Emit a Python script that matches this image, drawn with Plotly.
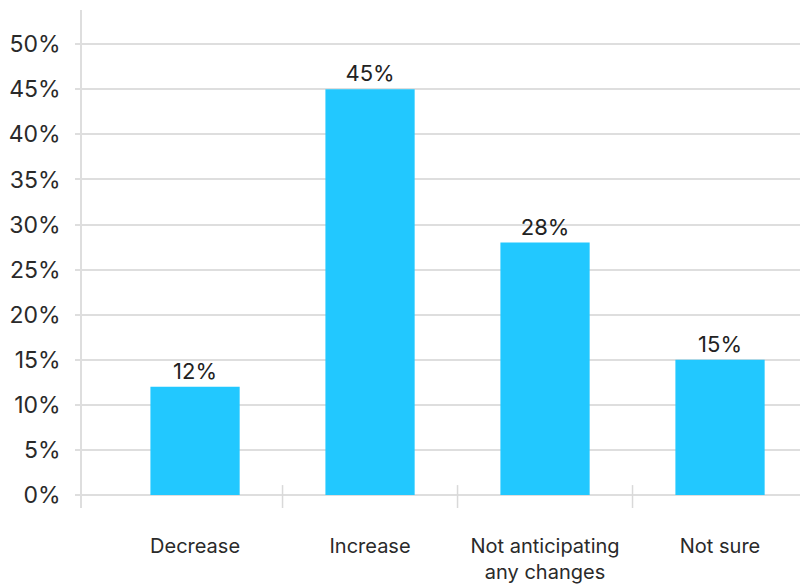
import plotly.graph_objects as go

categories = ["Decrease", "Increase", "Not anticipating<br>any changes", "Not sure"]
values = [12, 45, 28, 15]
value_labels = ["12%", "45%", "28%", "15%"]
y_ticks = [0, 5, 10, 15, 20, 25, 30, 35, 40, 45, 50]
y_tick_labels = [f"{v}%" for v in y_ticks]

FONT = "Inter, Lato, sans-serif"

fig = go.Figure(
    go.Bar(
        x=list(range(len(categories))),
        y=values,
        text=value_labels,
        textposition="outside",
        textfont=dict(family=FONT, size=22, color="#222222"),
        cliponaxis=False,
        marker=dict(color="#22C8FF", line=dict(width=0)),
        width=0.51,
    )
)

# category divider ticks
for b in [0.5, 1.5, 2.5]:
    fig.add_shape(type="line", xref="x", yref="y", x0=b, x1=b, y0=1.1, y1=-1.44,
                  line=dict(color="#d9d9d9", width=1.5))

fig.update_layout(
    width=800, height=584,
    margin=dict(l=82, r=0, t=10, b=76),
    paper_bgcolor="white", plot_bgcolor="white",
    showlegend=False,
    font=dict(family=FONT, color="#2a2a2a"),
    xaxis=dict(
        range=[-0.646, 3.457],
        tickmode="array",
        tickvals=list(range(len(categories))),
        ticktext=categories,
        tickfont=dict(family=FONT, size=20, color="#2a2a2a"),
        showgrid=False, zeroline=False, showline=False,
        ticks="", ticklabelstandoff=24,
    ),
    yaxis=dict(
        range=[-1.44, 53.8],
        tickmode="array",
        tickvals=y_ticks,
        ticktext=y_tick_labels,
        tickfont=dict(family=FONT, size=23, color="#2a2a2a"),
        showgrid=True, gridcolor="#dedede", gridwidth=1.5,
        zeroline=False,
        showline=True, linecolor="#dedede", linewidth=1.5,
        ticks="outside", ticklen=5, tickcolor="#dedede", tickwidth=1.5,
        ticklabelstandoff=10,
    ),
)

fig.write_html("out.html")
